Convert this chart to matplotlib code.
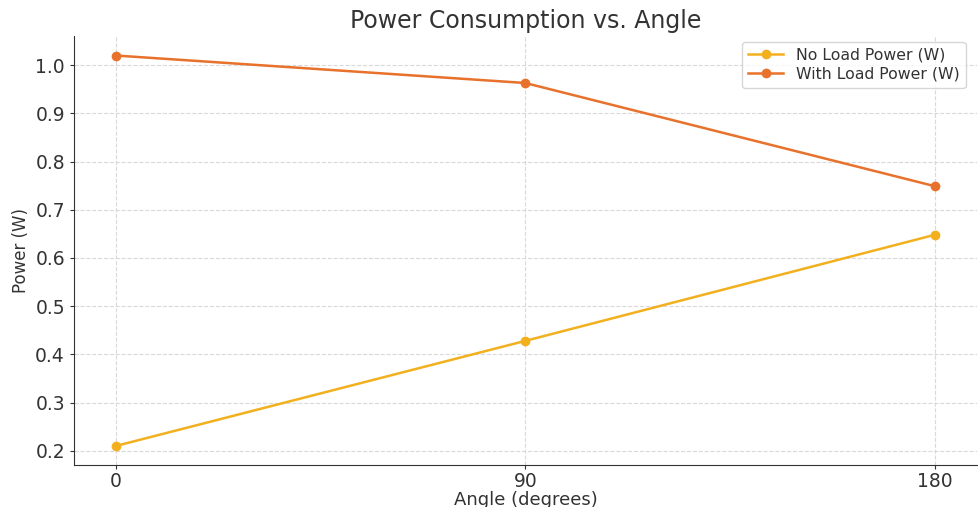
import matplotlib
matplotlib.use("Agg")
import matplotlib.pyplot as plt

angles = [0, 90, 180]
no_load = [0.21, 0.428, 0.648]
with_load = [1.02, 0.963, 0.749]
xticks = [0, 90, 180]

fig = plt.figure(figsize=(9.79, 5.07), dpi=100)
ax = fig.add_axes([74/979, 1-465/507, 903/979, (465-36)/507])

ax.plot(angles, no_load, marker='o', color='#F2B01E', lw=1.8, ms=6, label='No Load Power (W)')
ax.plot(angles, with_load, marker='o', color='#E8712B', lw=1.8, ms=6, label='With Load Power (W)')

ax.set_xticks(xticks)
ax.set_xlim(-9.2, 189.3)
ax.set_ylim(0.1705, 1.0605)
ax.set_yticks([0.2, 0.3, 0.4, 0.5, 0.6, 0.7, 0.8, 0.9, 1.0])
ax.grid(True, linestyle='--', color='#d9d9d9', lw=0.8)
ax.set_axisbelow(True)
for s in ['top', 'right']:
    ax.spines[s].set_visible(False)
ax.spines['left'].set_color('#333333')
ax.spines['bottom'].set_color('#333333')
ax.tick_params(labelsize=13.5, colors='#333333', length=3)
ax.tick_params(axis='x', pad=2)
ax.set_title('Power Consumption vs. Angle', fontsize=17, color='#333333', pad=6)
ax.set_xlabel('Angle (degrees)', fontsize=13, color='#333333', labelpad=0)
ax.set_ylabel('Power (W)', fontsize=12, color='#333333')
leg = ax.legend(loc='upper right', fontsize=11.3, frameon=True, bbox_to_anchor=(0.996, 1.005),
                labelspacing=0.25, handlelength=2.2, borderpad=0.4)
leg.get_frame().set_edgecolor('#cccccc')
for t in leg.get_texts():
    t.set_color('#333333')

fig.savefig('out.png', dpi=100)
